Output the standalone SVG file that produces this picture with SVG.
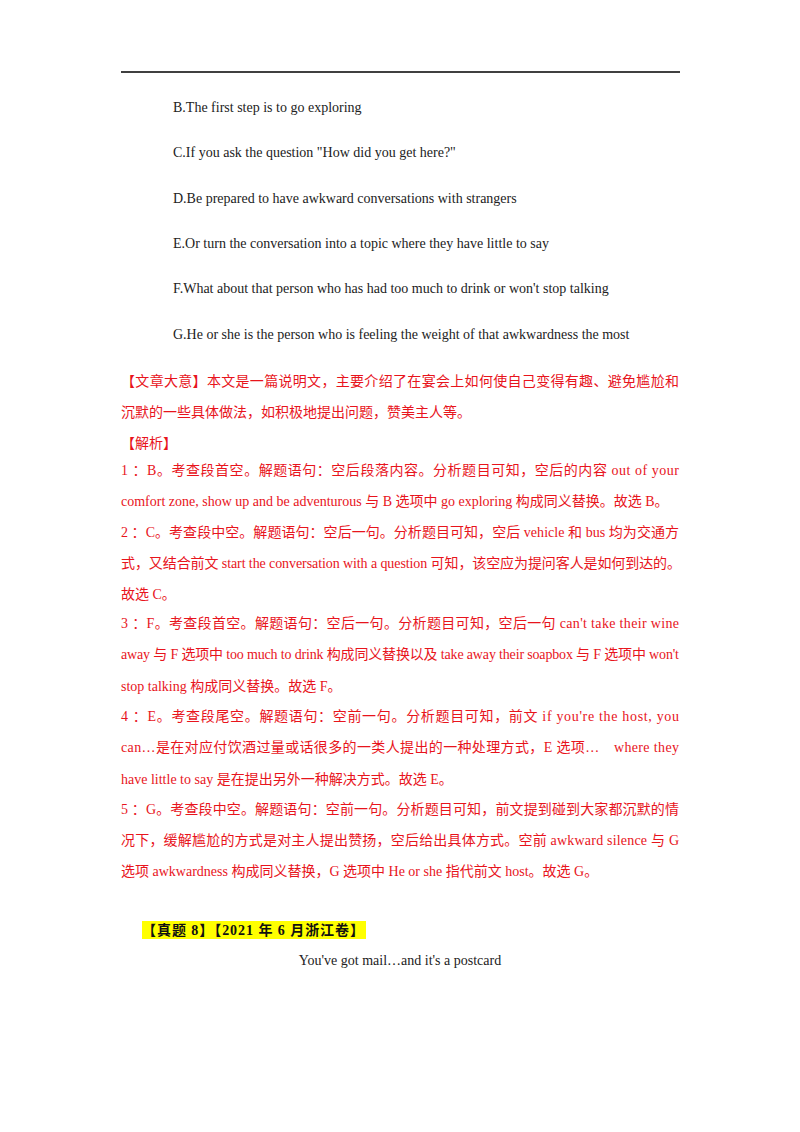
<svg xmlns="http://www.w3.org/2000/svg" width="800" height="1132" viewBox="0 0 800 1132">
<style>
.o{font-family:"Liberation Serif","Noto Sans CJK SC",serif;font-size:14px;fill:#222}
.r{font-family:"Liberation Serif","Noto Sans CJK SC",serif;font-size:14px;fill:#e8141c}
.h{font-family:"Liberation Serif","Noto Sans CJK SC",serif;font-size:14px;font-weight:bold;fill:#111}
</style>
<rect width="800" height="1132" fill="#fff"/>
<line x1="121" y1="72" x2="680" y2="72" stroke="#000" stroke-width="1.5"/>
<text class="o" x="173" y="112">B.The first step is to go exploring</text>
<text class="o" x="173" y="157">C.If you ask the question "How did you get here?"</text>
<text class="o" x="173" y="203">D.Be prepared to have awkward conversations with strangers</text>
<text class="o" x="173" y="248">E.Or turn the conversation into a topic where they have little to say</text>
<text class="o" x="173" y="293">F.What about that person who has had too much to drink or won't stop talking</text>
<text class="o" x="173" y="339">G.He or she is the person who is feeling the weight of that awkwardness the most</text>
<text class="r" x="121" y="386" textLength="558" lengthAdjust="spacing">【文章大意】本文是一篇说明文，主要介绍了在宴会上如何使自己变得有趣、避免尴尬和</text>
<text class="r" x="121" y="417">沉默的一些具体做法，如积极地提出问题，赞美主人等。</text>
<text class="r" x="121" y="448">【解析】</text>
<text class="r" x="121" y="475" textLength="558" lengthAdjust="spacing">1 ：B。考查段首空。解题语句：空后段落内容。分析题目可知，空后的内容 out of your</text>
<text class="r" x="121" y="506">comfort zone, show up and be adventurous 与 B 选项中 go exploring 构成同义替换。故选 B。</text>
<text class="r" x="121" y="537" textLength="558" lengthAdjust="spacing">2 ：C。考查段中空。解题语句：空后一句。分析题目可知，空后 vehicle 和 bus 均为交通方</text>
<text class="r" x="121" y="568" textLength="560" lengthAdjust="spacing">式，又结合前文 start the conversation with a question 可知，该空应为提问客人是如何到达的。</text>
<text class="r" x="121" y="599">故选 C。</text>
<text class="r" x="121" y="628" textLength="558" lengthAdjust="spacing">3 ：F。考查段首空。解题语句：空后一句。分析题目可知，空后一句 can't take their wine</text>
<text class="r" x="121" y="659" textLength="558" lengthAdjust="spacing">away 与 F 选项中 too much to drink 构成同义替换以及 take away their soapbox 与 F 选项中 won't</text>
<text class="r" x="121" y="691">stop talking 构成同义替换。故选 F。</text>
<text class="r" x="121" y="721" textLength="558" lengthAdjust="spacing">4 ：E。考查段尾空。解题语句：空前一句。分析题目可知，前文 if you're the host, you</text>
<text class="r" x="121" y="752" textLength="558" lengthAdjust="spacing">can…是在对应付饮酒过量或话很多的一类人提出的一种处理方式，E 选项…　where they</text>
<text class="r" x="121" y="784">have little to say 是在提出另外一种解决方式。故选 E。</text>
<text class="r" x="121" y="814" textLength="558" lengthAdjust="spacing">5 ：G。考查段中空。解题语句：空前一句。分析题目可知，前文提到碰到大家都沉默的情</text>
<text class="r" x="121" y="845" textLength="558" lengthAdjust="spacing">况下，缓解尴尬的方式是对主人提出赞扬，空后给出具体方式。空前 awkward silence 与 G</text>
<text class="r" x="121" y="876">选项 awkwardness 构成同义替换，G 选项中 He or she 指代前文 host。故选 G。</text>
<rect x="142" y="921" width="224" height="18" fill="#ffff00"/>
<text class="h" x="142" y="935" textLength="222" lengthAdjust="spacing">【真题 8】【2021 年 6 月浙江卷】</text>
<text class="o" x="400" y="965" text-anchor="middle">You've got mail…and it's a postcard</text>
</svg>
